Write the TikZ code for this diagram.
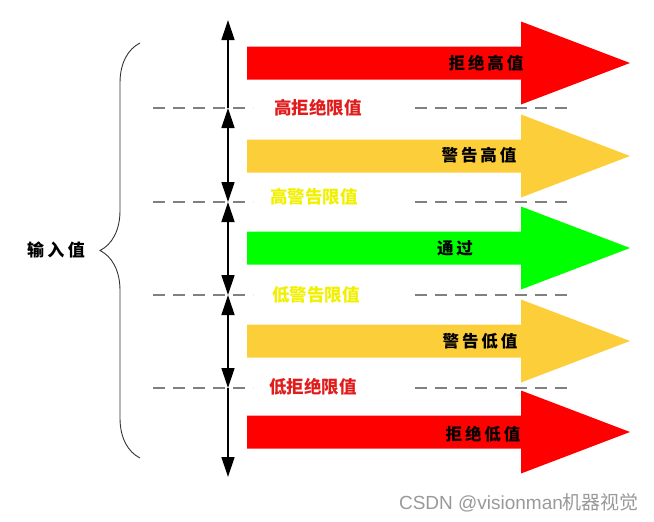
\documentclass[tikz,border=0pt]{standalone}
\usepackage{fontspec}
\setmainfont{Liberation Sans}
\newfontfamily\cjk{Noto Sans CJK SC}
\usetikzlibrary{arrows.meta,decorations.pathreplacing}

\definecolor{rejred}{RGB}{255,0,0}
\definecolor{warnyel}{RGB}{252,206,58}
\definecolor{passgrn}{RGB}{0,255,0}
\definecolor{limred}{RGB}{224,28,28}
\definecolor{limyel}{RGB}{240,240,0}
\definecolor{dashgray}{RGB}{128,128,128}

\tikzset{
  bandtext/.style={inner sep=0pt,font=\cjk\bfseries\fontsize{16.5}{18}\selectfont\addfontfeature{LetterSpace=18}},
  limittext/.style={inner sep=0pt,font=\cjk\bfseries\fontsize{17.5}{19}\selectfont},
  limitline/.style={dashgray,line width=2pt,dash pattern=on 12pt off 8pt},
  rangeline/.style={black,line width=1.3pt},
  >={Triangle[length=20pt,width=13pt]}
}

\begin{document}
\begin{tikzpicture}[x=1pt,y=-1pt]
\useasboundingbox (0,0) rectangle (654,522);

% band arrows
\fill[rejred] (247,63) ++(0,-16.5) -- ++(274,0) -- ++(0,-25) -- ++(109,41.5) -- ++(-109,41.5) -- ++(0,-25) -- ++(-274,0) -- cycle;
\fill[warnyel] (247,156) ++(0,-16.5) -- ++(274,0) -- ++(0,-25) -- ++(109,41.5) -- ++(-109,41.5) -- ++(0,-25) -- ++(-274,0) -- cycle;
\fill[passgrn] (247,248) ++(0,-16.5) -- ++(274,0) -- ++(0,-25) -- ++(109,41.5) -- ++(-109,41.5) -- ++(0,-25) -- ++(-274,0) -- cycle;
\fill[warnyel] (247,341) ++(0,-16.5) -- ++(274,0) -- ++(0,-25) -- ++(109,41.5) -- ++(-109,41.5) -- ++(0,-25) -- ++(-274,0) -- cycle;
\fill[rejred] (247,432) ++(0,-16.5) -- ++(274,0) -- ++(0,-25) -- ++(109,41.5) -- ++(-109,41.5) -- ++(0,-25) -- ++(-274,0) -- cycle;

\node[bandtext] (rejhi) at (486,63) {拒绝高值};
\node[bandtext] (warnhi) at (479,155) {警告高值};
\node[bandtext] (pass) at (455,248) {通过};
\node[bandtext] (warnlo) at (480,341) {警告低值};
\node[bandtext] (rejlo) at (483,434) {拒绝低值};

% limit lines
\draw[limitline] (153,108) -- (253,108);
\draw[limitline] (415,108) -- (572,108);
\draw[limitline] (153,202) -- (253,202);
\draw[limitline] (415,202) -- (572,202);
\draw[limitline] (153,295) -- (253,295);
\draw[limitline] (415,295) -- (572,295);
\draw[limitline] (153,388) -- (253,388);
\draw[limitline] (415,388) -- (572,388);

\node[limittext,limred] (rejhilim) at (318,108) {高拒绝限值};
\node[limittext,limyel] (warnhilim) at (314,197) {高警告限值};
\node[limittext,limyel] (warnlolim) at (316,295) {低警告限值};
\node[limittext,limred] (rejlolim) at (313,387) {低拒绝限值};

% value range
\coordinate (top) at (228,20);
\coordinate (l1) at (228,108);
\coordinate (l2) at (228,202);
\coordinate (l3) at (228,295);
\coordinate (l4) at (228,388);
\coordinate (bot) at (228,477);
\draw[rangeline,->] (l1) -- (top);
\draw[rangeline,<->] (l1) -- (l2);
\draw[rangeline,<->] (l2) -- (l3);
\draw[rangeline,<->] (l3) -- (l4);
\draw[rangeline,->] (l4) -- (bot);

% input brace
\coordinate (brtop) at (140,43);
\coordinate (brbot) at (140,458);
\draw[black!80,line width=0.9pt,decorate,decoration={brace,amplitude=40pt,aspect=0.5}] (brbot) -- (brtop);
\node[inner sep=0pt,font=\cjk\bfseries\fontsize{17}{19}\selectfont\addfontfeature{LetterSpace=20}] (input) at (56,250) {输入值};

\node[inner sep=0pt,black!40,font=\fontsize{19}{21}\selectfont] (wmark) at (519,503) {CSDN @visionman{\cjk 机器视觉}};
\end{tikzpicture}
\end{document}
